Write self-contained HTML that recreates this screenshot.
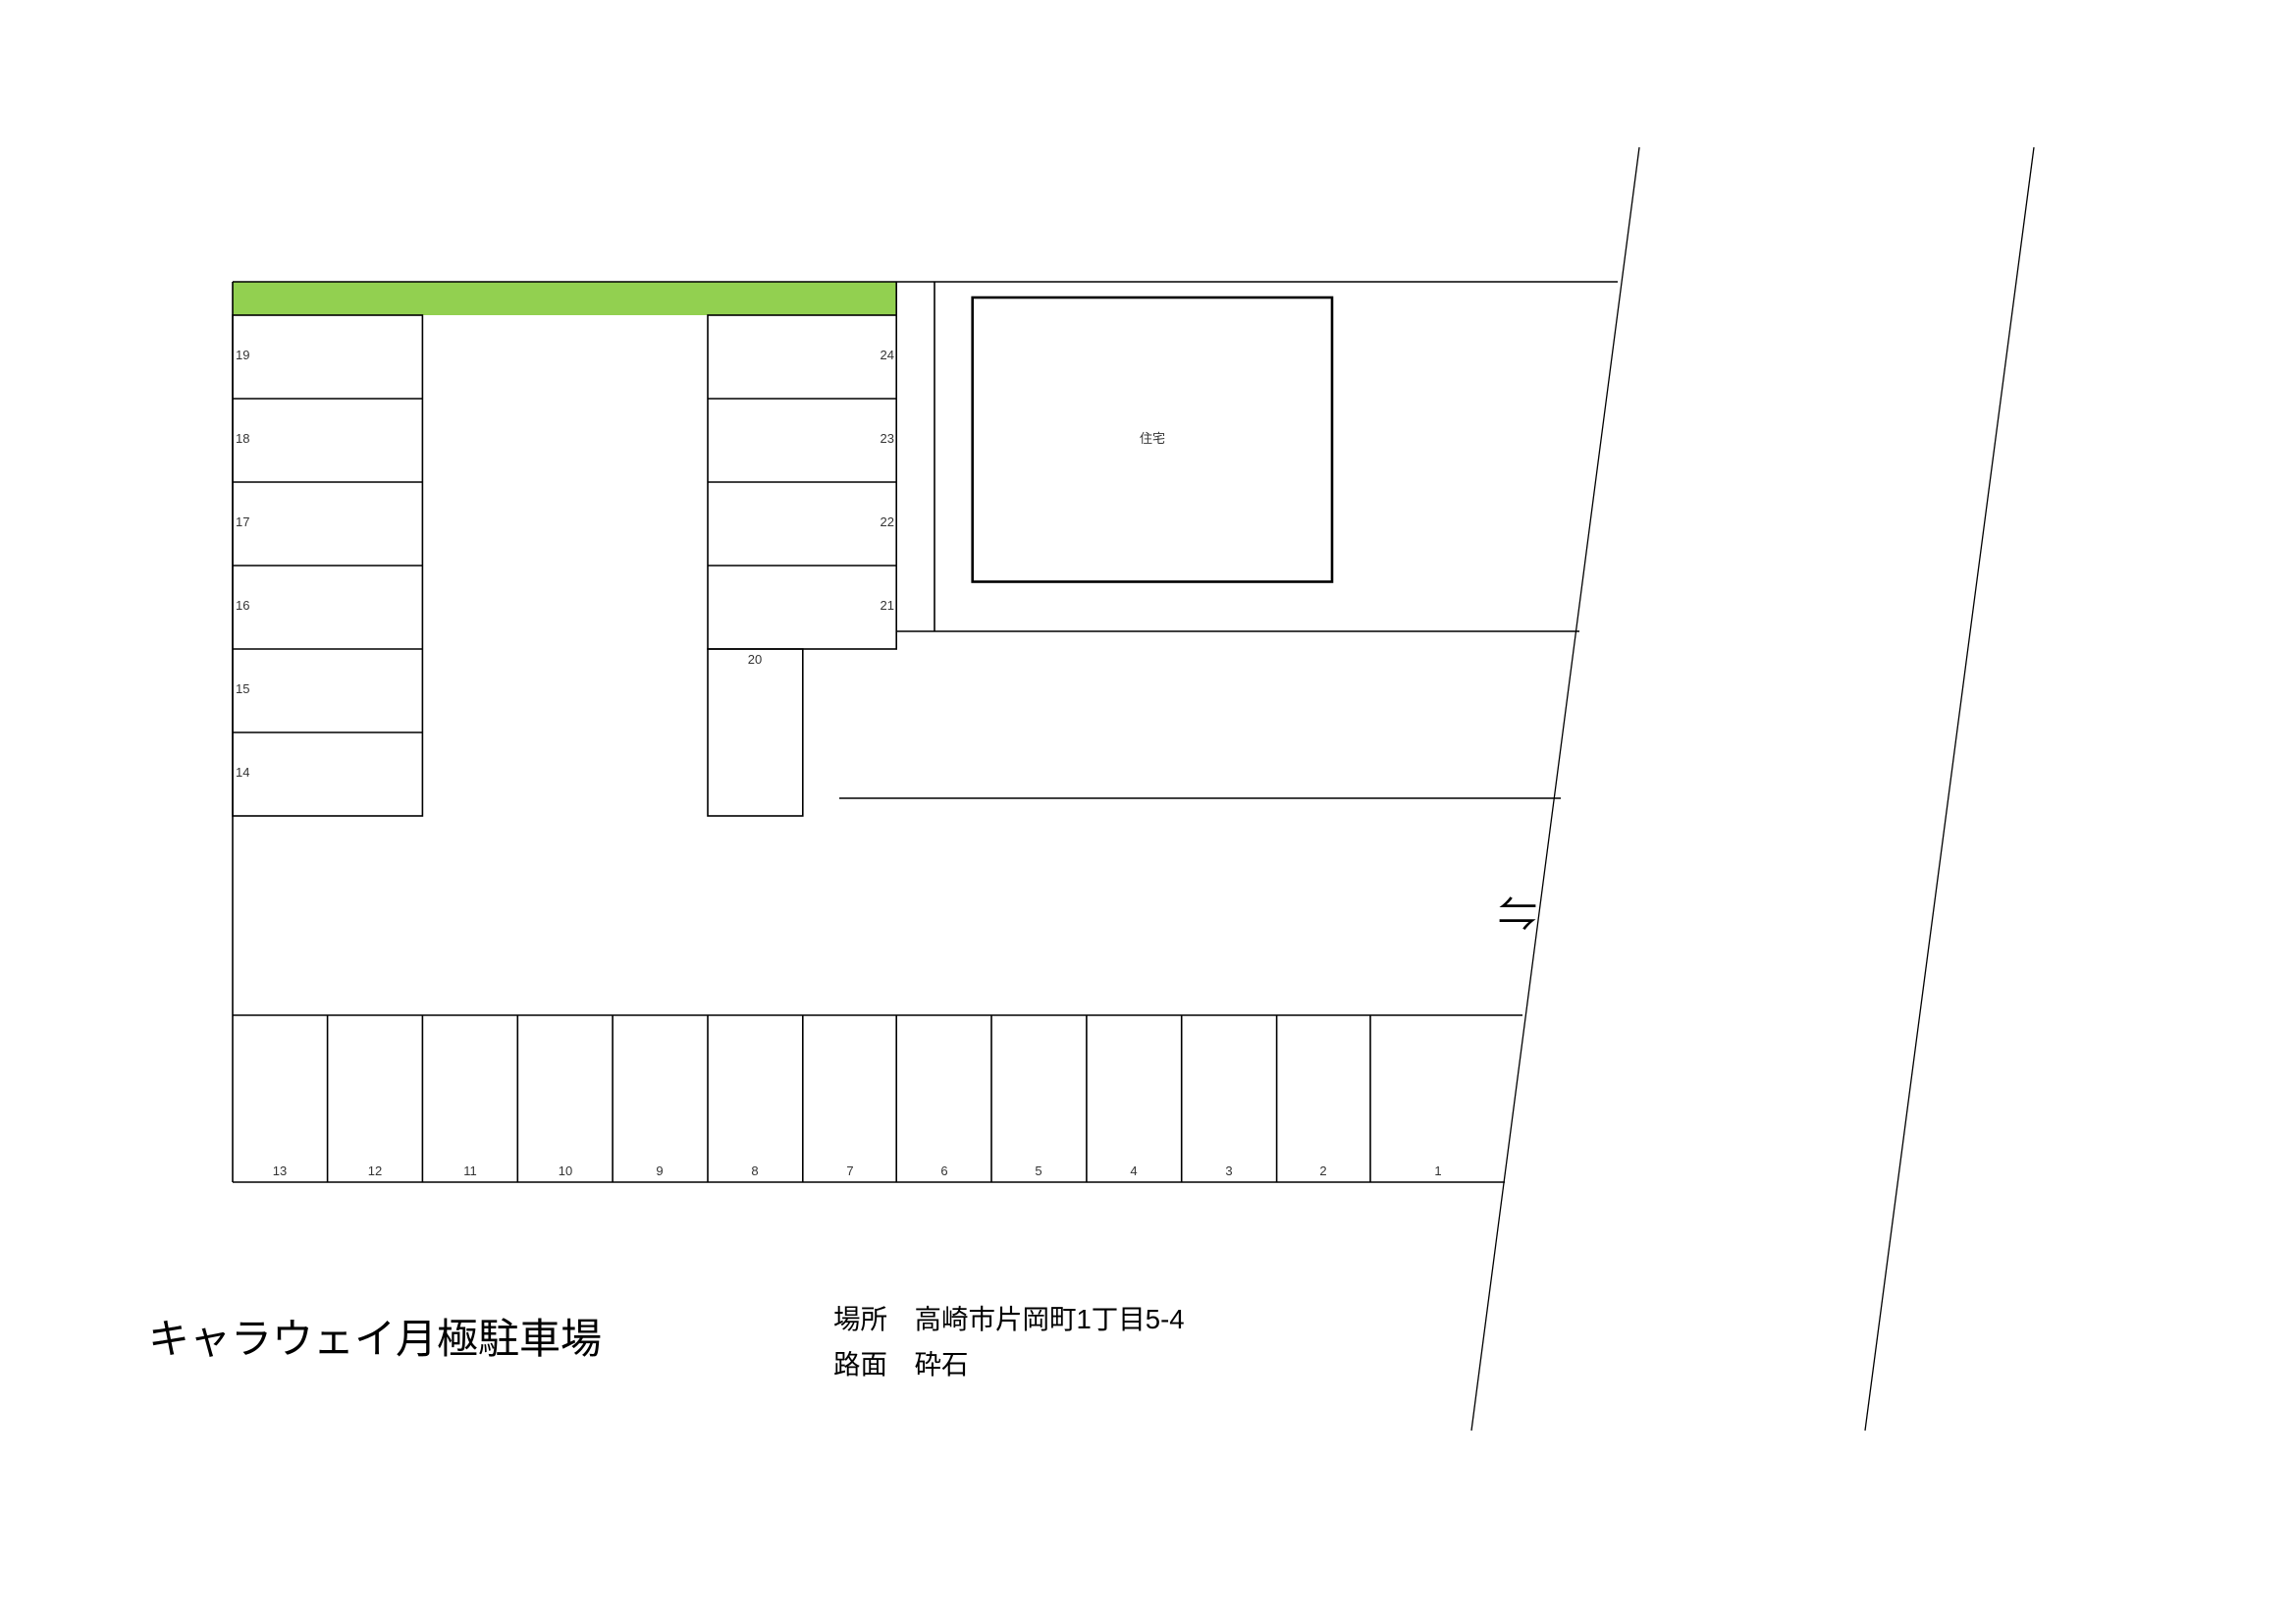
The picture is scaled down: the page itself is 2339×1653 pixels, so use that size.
<!DOCTYPE html>
<html><head><meta charset="utf-8"><style>
html,body{margin:0;padding:0;background:#fff;}
svg{display:block;}
text{font-family:"Liberation Sans","Noto Sans CJK JP",sans-serif;fill:#333;}
</style></head><body>
<svg width="2339" height="1653" viewBox="0 0 2339 1653" xmlns="http://www.w3.org/2000/svg">
<rect x="0" y="0" width="2339" height="1653" fill="#fff"/>
<rect x="237" y="287" width="676" height="34" fill="#92d050"/>
<g stroke="#000" stroke-width="1.6" fill="none">
<line x1="237" y1="287" x2="1648" y2="287"/>
<line x1="237" y1="287" x2="237" y2="1204"/>
<rect x="237" y="321" width="193.4" height="510"/>
<line x1="237" y1="406" x2="430.4" y2="406"/>
<line x1="237" y1="491" x2="430.4" y2="491"/>
<line x1="237" y1="576" x2="430.4" y2="576"/>
<line x1="237" y1="661" x2="430.4" y2="661"/>
<line x1="237" y1="746" x2="430.4" y2="746"/>
<rect x="721" y="321" width="192.2" height="340"/>
<line x1="721" y1="406" x2="913.2" y2="406"/>
<line x1="721" y1="491" x2="913.2" y2="491"/>
<line x1="721" y1="576" x2="913.2" y2="576"/>
<line x1="913.2" y1="287" x2="913.2" y2="321"/>
<rect x="721" y="661" width="96.8" height="170"/>
<line x1="952" y1="287" x2="952" y2="643"/>
<line x1="913.2" y1="643" x2="1609" y2="643"/>
<line x1="855" y1="813" x2="1590" y2="813"/>
<rect x="990.7" y="303" width="366.3" height="289.5" stroke-width="2.6"/>
<line x1="237" y1="1034" x2="1551" y2="1034"/>
<line x1="237" y1="1204" x2="1533" y2="1204"/>
<line x1="333.6" y1="1034" x2="333.6" y2="1204"/>
<line x1="430.4" y1="1034" x2="430.4" y2="1204"/>
<line x1="527.3" y1="1034" x2="527.3" y2="1204"/>
<line x1="624.1" y1="1034" x2="624.1" y2="1204"/>
<line x1="721" y1="1034" x2="721" y2="1204"/>
<line x1="817.8" y1="1034" x2="817.8" y2="1204"/>
<line x1="913.2" y1="1034" x2="913.2" y2="1204"/>
<line x1="1010" y1="1034" x2="1010" y2="1204"/>
<line x1="1106.9" y1="1034" x2="1106.9" y2="1204"/>
<line x1="1203.7" y1="1034" x2="1203.7" y2="1204"/>
<line x1="1300.6" y1="1034" x2="1300.6" y2="1204"/>
<line x1="1396" y1="1034" x2="1396" y2="1204"/>
<line x1="1670" y1="150" x2="1499" y2="1457" stroke-width="1.3"/>
<line x1="2072" y1="150" x2="1900" y2="1457" stroke-width="1.3"/>
</g>
<g font-size="13">
<text x="240" y="366">19</text>
<text x="240" y="451">18</text>
<text x="240" y="536">17</text>
<text x="240" y="621">16</text>
<text x="240" y="706">15</text>
<text x="240" y="791">14</text>
<text x="911" y="366" text-anchor="end">24</text>
<text x="911" y="451" text-anchor="end">23</text>
<text x="911" y="536" text-anchor="end">22</text>
<text x="911" y="621" text-anchor="end">21</text>
<text x="769" y="676" text-anchor="middle">20</text>
<text x="285" y="1197" text-anchor="middle">13</text>
<text x="382" y="1197" text-anchor="middle">12</text>
<text x="479" y="1197" text-anchor="middle">11</text>
<text x="576" y="1197" text-anchor="middle">10</text>
<text x="672" y="1197" text-anchor="middle">9</text>
<text x="769" y="1197" text-anchor="middle">8</text>
<text x="866" y="1197" text-anchor="middle">7</text>
<text x="962" y="1197" text-anchor="middle">6</text>
<text x="1058" y="1197" text-anchor="middle">5</text>
<text x="1155" y="1197" text-anchor="middle">4</text>
<text x="1252" y="1197" text-anchor="middle">3</text>
<text x="1348" y="1197" text-anchor="middle">2</text>
<text x="1465" y="1197" text-anchor="middle">1</text>
<text x="1174" y="451" text-anchor="middle">住宅</text>
</g>
<text x="1546" y="945" font-size="40" text-anchor="middle" style="fill:#000">⇋</text>
<text x="151" y="1378" font-size="42" style="fill:#000">キャラウェイ月極駐車場</text>
<text x="849" y="1353" font-size="27.5" style="fill:#000">場所　高崎市片岡町1丁目5-4</text>
<text x="849" y="1399" font-size="27.5" style="fill:#000">路面　砕石</text>
</svg>
</body></html>
